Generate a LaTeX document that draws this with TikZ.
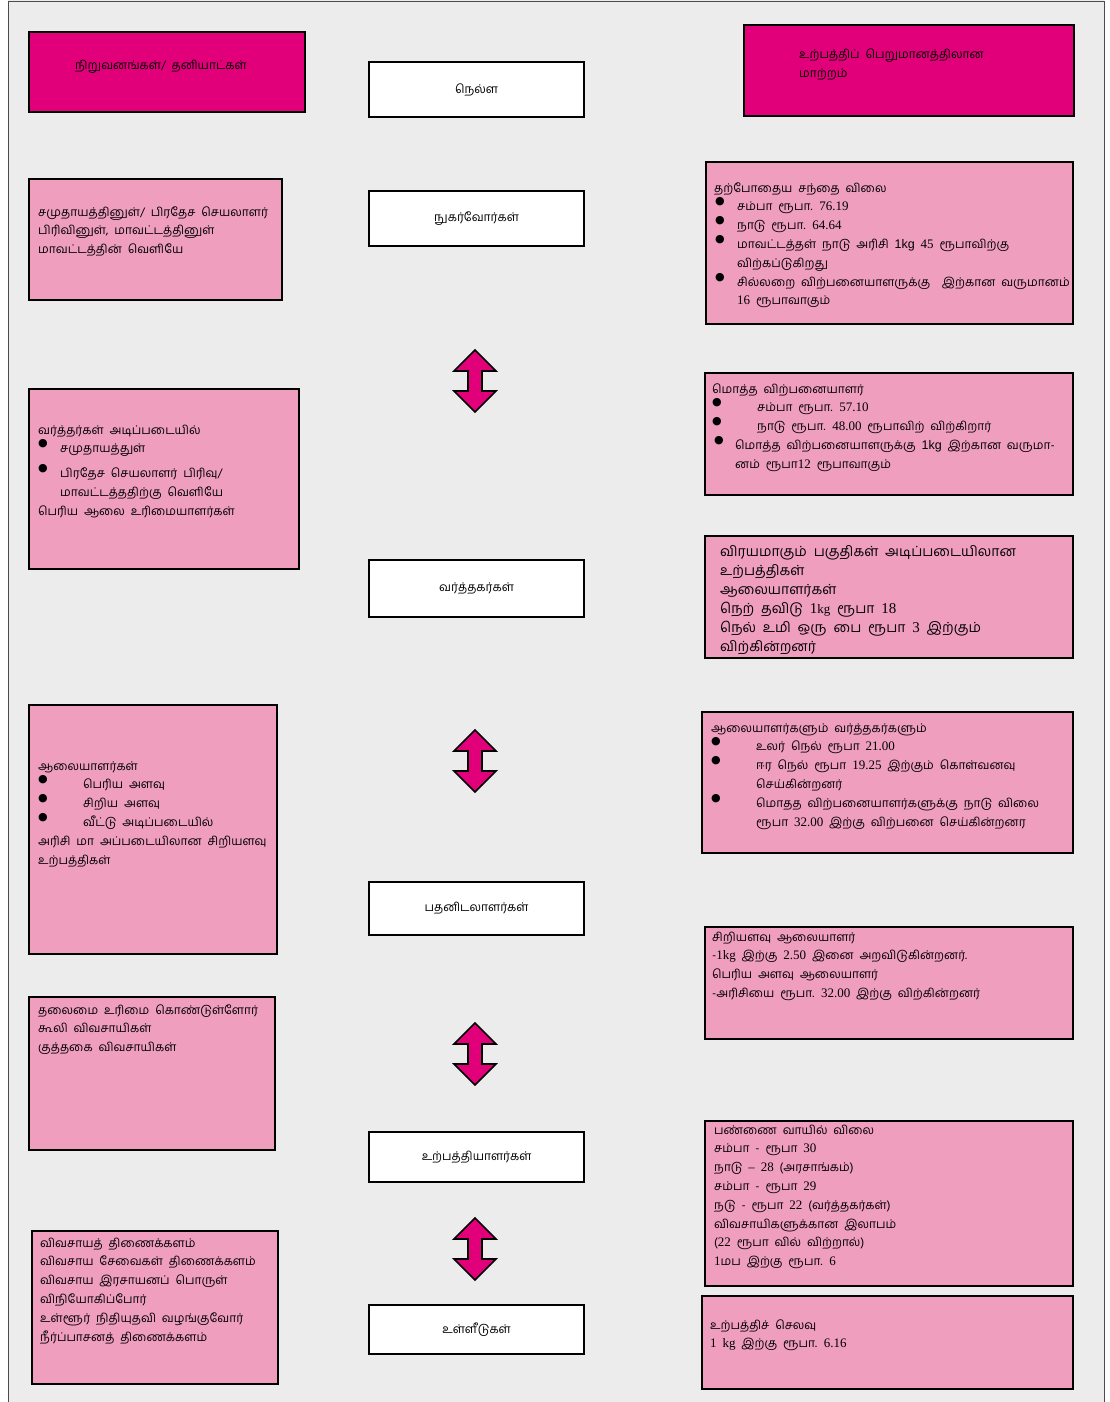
\documentclass[tikz,border=0pt]{standalone}
\usepackage{fontspec}
\newfontfamily\tamf[Script=Tamil,WordSpace=2]{Hind Madurai}
\newfontfamily\latf{Liberation Serif}
\newfontfamily\lasf{Liberation Sans}
\newfontfamily\bulf{DejaVu Sans}
\newcommand\nm[1]{{\latf\fontsize{13}{18.8}\selectfont #1}}
\newcommand\nmb[1]{{\latf\fontsize{15}{19}\selectfont #1}}
\newcommand\ns[1]{{\lasf\fontsize{12.5}{18.8}\selectfont #1}}
\newcommand\bu[2]{\hspace*{#1}\makebox[0pt][l]{\raisebox{6pt}{\bulf\fontsize{11}{11}\selectfont ●}}\hspace*{\dimexpr#2-#1\relax}}
\newcommand\tl[1]{\begin{tabular}[t]{@{}l@{}}#1\end{tabular}}
\definecolor{bgc}{HTML}{EBECEB}
\definecolor{pinkc}{HTML}{F09EBE}
\definecolor{magc}{HTML}{E2007A}
\tikzset{
  pbox/.style={draw=black, line width=2.2pt, fill=pinkc, inner sep=0pt, anchor=north west},
  mbox/.style={pbox, fill=magc},
  wbox/.style={pbox, fill=white, minimum width=215pt},
  txt/.style={inner sep=0pt, anchor=base west, font=\tamf\fontsize{12}{18.8}\selectfont},
  ctxt/.style={inner sep=0pt, anchor=center, font=\tamf\fontsize{12}{18.8}\selectfont},
  arr/.style={draw=black, line width=1.6pt, fill=magc, line join=miter}
}
\newcommand\dbarr[1]{\draw[arr] (475,#1) -- (496,#1+21) -- (482,#1+21) -- (482,#1+41) -- (496,#1+41) -- (475,#1+62) -- (454,#1+41) -- (468,#1+41) -- (468,#1+21) -- (454,#1+21) -- cycle;}
\begin{document}
\begin{tikzpicture}[x=1pt,y=-1pt]
\useasboundingbox (0,0) rectangle (1110,1402);
\fill[bgc] (8,0) rectangle (1104,1402);
\draw[black!70, line width=0.8pt] (8,1402) -- (8,1) -- (1104,1) -- (1104,1402);

% top magenta boxes
\node[mbox, minimum width=276pt, minimum height=80pt] (tl) at (28,31) {};
\node[ctxt] (tlt) at (161,67) {நிறுவனங்கள்/ தனியாட்கள்};
\node[mbox, minimum width=330pt, minimum height=91pt] (tr) at (743,24) {};
\node[txt] (trt) at (799,59) {\tl{உற்பத்திப் பெறுமானத்திலான\\மாற்றம்}};

% centre white boxes
\node[wbox, minimum height=55pt] (c1) at (368,61) {};
\node[ctxt] at (c1.center) (c1t) {நெல்ள};
\node[wbox, minimum height=55pt] (c2) at (368,190) {};
\node[ctxt] at (c2.center) (c2t) {நுகர்வோர்கள்};
\node[wbox, minimum height=57pt] (c3) at (368,559) {};
\node[ctxt] at (c3.center) (c3t) {வர்த்தகர்கள்};
\node[wbox, minimum height=53pt] (c4) at (368,881) {};
\node[ctxt] at (c4.center) (c4t) {பதனிடலாளர்கள்};
\node[wbox, minimum height=50pt] (c5) at (368,1131) {};
\node[ctxt] at (c5.center) (c5t) {உற்பத்தியாளர்கள்};
\node[wbox, minimum height=49pt] (c6) at (368,1304) {};
\node[ctxt] at (c6.center) (c6t) {உள்ளீடுகள்};

% double arrows
\dbarr{350}
\dbarr{730}
\dbarr{1023}
\dbarr{1218}

% left boxes
\node[pbox, minimum width=253pt, minimum height=121pt] (l1) at (28,178) {};
\node[txt] (l1t) at (38,216) {\tl{சமுதாயத்தினுள்/ பிரதேச செயலாளர்\\பிரிவினுள், மாவட்டத்தினுள்\\மாவட்டத்தின் வெளியே}};

\node[pbox, minimum width=270pt, minimum height=180pt] (l2) at (28,388) {};
\node[txt] (l2t) at (38,434) {\tl{வர்த்தர்கள் அடிப்படையில்\\
\bu{0pt}{22pt}சமுதாயத்துள்\\[6pt]
\bu{0pt}{22pt}பிரதேச செயலாளர் பிரிவு/\\
\hspace*{22pt}மாவட்டத்ததிற்கு வெளியே\\
பெரிய ஆலை உரிமையாளர்கள்}};

\node[pbox, minimum width=248pt, minimum height=249pt] (l3) at (28,704) {};
\node[txt] (l3t) at (38,770) {\tl{ஆலையாளர்கள்\\
\bu{0pt}{45pt}பெரிய அளவு\\
\bu{0pt}{45pt}சிறிய அளவு\\
\bu{0pt}{45pt}வீட்டு அடிப்படையில்\\
அரிசி மா அப்படையிலான சிறியளவு\\
உற்பத்திகள்}};

\node[pbox, minimum width=246pt, minimum height=153pt] (l4) at (28,996) {};
\node[txt] (l4t) at (38,1014) {\tl{தலைமை உரிமை கொண்டுள்ளோர்\\கூலி விவசாயிகள்\\குத்தகை விவசாயிகள்}};

\node[pbox, minimum width=246pt, minimum height=153pt] (l5) at (31,1230) {};
\node[txt] (l5t) at (40,1247) {\tl{விவசாயத் திணைக்களம்\\விவசாய சேவைகள் திணைக்களம்\\விவசாய இரசாயனப் பொருள்\\விநியோகிப்போர்\\உள்ளூர் நிதியுதவி வழங்குவோர்\\நீர்ப்பாசனத் திணைக்களம்}};

% right boxes
\node[pbox, minimum width=367pt, minimum height=162pt] (r1) at (705,161) {};
\node[txt] (r1t) at (714,192) {\tl{தற்போதைய சந்தை விலை\\
\bu{1pt}{23pt}சம்பா ரூபா. \nm{76.19}\\
\bu{1pt}{23pt}நாடு ரூபா. \nm{64.64}\\
\bu{1pt}{23pt}மாவட்டத்தள் நாடு அரிசி \ns{1kg} \nm{45} ரூபாவிற்கு\\
\hspace*{23pt}விற்கப்டுகிறது\\
\bu{1pt}{23pt}சில்லறை விற்பனையாளருக்கு\ \ இற்கான வருமானம்\\
\hspace*{23pt}\nm{16} ரூபாவாகும்}};

\node[pbox, minimum width=368pt, minimum height=122pt] (r2) at (704,372) {};
\node[txt] (r2t) at (712,393) {\tl{மொத்த விற்பனையாளர்\\
\bu{0pt}{45pt}சம்பா ரூபா. \nm{57.10}\\
\bu{0pt}{45pt}நாடு ரூபா. \nm{48.00} ரூபாவிற் விற்கிறார்\\
\bu{2pt}{23pt}மொத்த விற்பனையாளருக்கு \ns{1kg} இற்கான வருமா-\\
\hspace*{23pt}னம் ரூபா\nm{12} ரூபாவாகும்}};

\node[pbox, minimum width=368pt, minimum height=122pt] (r3) at (704,535) {};
\node[txt, font=\tamf\fontsize{14}{19}\selectfont] (r3t) at (720,556) {\tl{விரயமாகும் பகுதிகள் அடிப்படையிலான\\உற்பத்திகள்\\ஆலையாளர்கள்\\நெற் தவிடு \nmb{1}\nm{kg} ரூபா \nmb{18}\\நெல் உமி ஒரு பை ரூபா \nmb{3} இற்கும்\\விற்கின்றனர்}};

\node[pbox, minimum width=371pt, minimum height=141pt] (r4) at (701,711) {};
\node[txt] (r4t) at (711,732) {\tl{ஆலையாளர்களும் வர்த்தகர்களும்\\
\bu{0pt}{45pt}உலர் நெல் ரூபா \nm{21.00}\\
\bu{0pt}{45pt}ஈர நெல் ரூபா \nm{19.25} இற்கும் கொள்வனவு\\
\hspace*{45pt}செய்கின்றனர்\\
\bu{0pt}{45pt}மொதத விற்பனையாளர்களுக்கு நாடு விலை\\
\hspace*{45pt}ரூபா \nm{32.00} இற்கு விற்பனை செய்கின்றனர}};

\node[pbox, minimum width=368pt, minimum height=112pt] (r5) at (704,926) {};
\node[txt] (r5t) at (712,941) {\tl{சிறியளவு ஆலையாளர்\\-\nm{1kg} இற்கு \nm{2.50} இனை அறவிடுகின்றனர்.\\பெரிய அளவு ஆலையாளர்\\-அரிசியை ரூபா. \nm{32.00} இற்கு விற்கின்றனர்}};

\node[pbox, minimum width=368pt, minimum height=165pt] (r6) at (704,1120) {};
\node[txt] (r6t) at (714,1134) {\tl{பண்ணை வாயில் விலை\\சம்பா - ரூபா \nm{30}\\நாடு \nm{–} \nm{28} (அரசாங்கம்)\\சம்பா - ரூபா \nm{29}\\நடு - ரூபா \nm{22} (வர்த்தகர்கள்)\\விவசாயிகளுக்கான இலாபம்\\(\nm{22} ரூபா வில் விற்றால்)\\\nm{1}மப இற்கு ரூபா. \nm{6}}};

\node[pbox, minimum width=371pt, minimum height=93pt] (r7) at (701,1295) {};
\node[txt] (r7t) at (710,1329) {\tl{உற்பத்திச் செலவு\\\nm{1} \nm{kg} இற்கு ரூபா. \nm{6.16}}};
\end{tikzpicture}
\end{document}
